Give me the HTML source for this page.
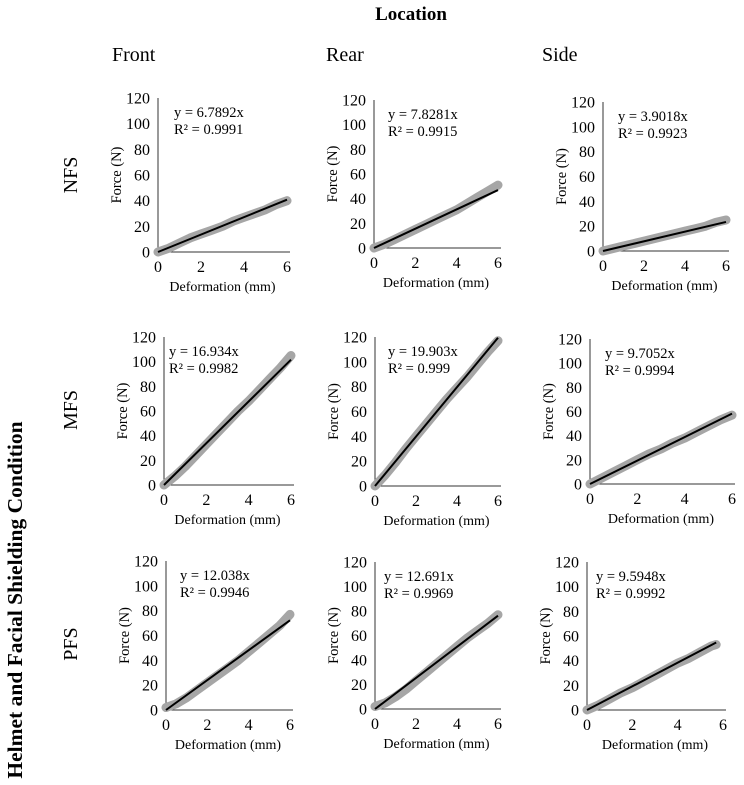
<!DOCTYPE html>
<html><head><meta charset="utf-8"><style>
body{margin:0;background:#fff;}
svg{display:block;font-family:"Liberation Serif",serif;}
</style></head><body>
<svg id="fig" width="744" height="785" viewBox="0 0 744 785">
<text x="411" y="20" font-size="19" font-weight="bold" text-anchor="middle">Location</text>
<text x="112" y="61" font-size="20">Front</text>
<text x="326" y="61" font-size="20">Rear</text>
<text x="542" y="61" font-size="20">Side</text>
<text transform="translate(77,175) rotate(-90)" font-size="20" text-anchor="middle">NFS</text>
<text transform="translate(77,410) rotate(-90)" font-size="20" text-anchor="middle">MFS</text>
<text transform="translate(77,644) rotate(-90)" font-size="20" text-anchor="middle">PFS</text>
<text transform="translate(22,600) rotate(-90)" font-size="21.5" font-weight="bold" text-anchor="middle">Helmet and Facial Shielding Condition</text>
<g id="panels"></g>
</svg>
<script>
const xsStd = [0,0.5,1,1.5,2,2.5,3,3.5,4,4.5,5,5.5,6];
const xsPfsSide = [0,0.5,1,1.5,2,2.5,3,3.5,4,4.5,5,5.5,5.7];
const nfsFront = [0,3,7,11,14,17,20,24,27,30,33,37,40];
const nfsRear = [0,3,7,11,15,19,23,27,31,36,41,46,51];
const nfsSide = [0,2,4,6,8,10,12,14,16,18,20,23,25];
const mfsFront = [0,7,15,24,33,42,51,60,68,77,86,95,105];
const mfsRear = [0,9,19,30,40,50,60,70,79,88,98,108,117];
const mfsSide = [0,5,10,15,20,25,29,34,38,43,48,53,57];
const pfsFront = [2,5,10,16,22,28,34,40,47,54,61,68,77];
const pfsRear = [2,5,10,16,23,30,37,44,51,58,64,70,77];
const pfsSide = [0,4,9,14,18,23,28,33,38,42,47,52,53];
const slopes = [6.7892,7.8281,3.9018,16.934,19.903,9.7052,12.038,12.691,9.5948];
const r2Labels = ["0.9991","0.9915","0.9923","0.9982","0.999","0.9994","0.9946","0.9969","0.9992"];
const slopeLabels = ["6.7892","7.8281","3.9018","16.934","19.903","9.7052","12.038","12.691","9.5948"];
const yTicks = [0,20,40,60,80,100,120];
const xTicks = [0,2,4,6];

const series = [nfsFront,nfsRear,nfsSide,mfsFront,mfsRear,mfsSide,pfsFront,pfsRear,pfsSide];
const xsets = [xsStd,xsStd,xsStd,xsStd,xsStd,xsStd,xsStd,xsStd,xsPfsSide];
const names = ["nfs-front","nfs-rear","nfs-side","mfs-front","mfs-rear","mfs-side","pfs-front","pfs-rear","pfs-side"];
const layout = [
 [158,287,252,98,16],[374,498,248,100,14],[603,726,251,102,15],
 [164,291,485,337,5],[375,498,486,337,13],[590,732,484,339,15],
 [166,290,710,561,14],[375,498,709,562,9],[587,723,710,562,9]
];
const NS="http://www.w3.org/2000/svg";
const root=document.getElementById('panels');
function mk(tag,attrs,parent,txt){const e=document.createElementNS(NS,tag);for(const k in attrs)e.setAttribute(k,attrs[k]);if(txt!==undefined)e.textContent=txt;parent.appendChild(e);return e;}
series.forEach((data,i)=>{
 const [ax,x6,y0,y120,edx]=layout[i];
 const sx=v=>ax+(x6-ax)*v/6;
 const sy=v=>y0-(y0-y120)*v/120;
 const g=mk('g',{},root);
 
 
 const ya=mk('line',{x1:ax,y1:y120,x2:ax,y2:y0,stroke:'#333','stroke-width':1},g);
 
 
 const xa=mk('line',{x1:ax,y1:y0,x2:x6+3,y2:y0,stroke:'#333','stroke-width':1},g);
 
 
 yTicks.forEach(t=>{const e=mk('text',{x:ax-8,y:sy(t)+5.5,'font-size':16,'text-anchor':'end'},g,String(t));
  
  });
 xTicks.forEach(t=>{const e=mk('text',{x:sx(t),y:y0+20,'font-size':16,'text-anchor':'middle'},g,String(t));
  
  });
 const xt=mk('text',{x:(ax+x6)/2,y:y0+39,'font-size':14,'text-anchor':'middle'},g,'Deformation (mm)');
 
 
 const yt=mk('text',{transform:`translate(${ax-37},${(y0+y120)/2}) rotate(-90)`,'font-size':14.5,'text-anchor':'middle'},g,'Force (N)');
 
 
 const xs=xsets[i];
 const pts=data.map((v,k)=>sx(xs[k]).toFixed(1)+','+sy(v).toFixed(1)).join(' ');
 const pl=mk('polyline',{points:pts,fill:'none',stroke:'#a6a6a6','stroke-width':9,'stroke-linejoin':'round','stroke-linecap':'round'},g);
 
 
 const xe=xs[xs.length-1];
 const tl=mk('line',{x1:sx(0),y1:sy(0),x2:sx(xe),y2:sy(slopes[i]*xe),stroke:'#000','stroke-width':2},g);
 
 
 const e1=mk('text',{x:ax+edx,y:y120+19,'font-size':14.5},g,'y = '+slopeLabels[i]+'x');
 
 
 const e2=mk('text',{x:ax+edx,y:y120+36,'font-size':14.5},g,'R² = '+r2Labels[i]);
 
 
});
</script>
</body></html>
